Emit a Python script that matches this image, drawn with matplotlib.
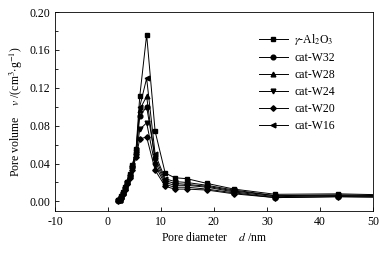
import matplotlib
matplotlib.use("Agg")
import matplotlib.pyplot as plt
from matplotlib.ticker import MultipleLocator

plt.rcParams['font.family'] = ['Liberation Serif', 'DejaVu Serif']
plt.rcParams['mathtext.fontset'] = 'stix'
plt.rcParams['axes.unicode_minus'] = False

# pore diameter (nm)
diameter = [1.9, 2.2, 2.5, 2.8, 3.2, 3.6, 4.1, 4.6, 5.3, 6.0, 7.3, 8.9,
            10.8, 12.6, 14.9, 18.7, 23.8, 31.6, 43.5, 60.0]

# pore volume (cm3/g)
al2o3 = [0.001, 0.003, 0.006, 0.010, 0.015, 0.021, 0.029, 0.038, 0.055, 0.111, 0.176, 0.074,
         0.030, 0.025, 0.024, 0.019, 0.013, 0.0075, 0.008, 0.006]
w32 = [0.001, 0.002, 0.005, 0.009, 0.014, 0.020, 0.027, 0.036, 0.050, 0.090, 0.100, 0.046,
       0.022, 0.019, 0.018, 0.016, 0.011, 0.006, 0.006, 0.005]
w28 = [0.001, 0.002, 0.005, 0.009, 0.014, 0.021, 0.028, 0.037, 0.052, 0.097, 0.111, 0.042,
       0.020, 0.017, 0.017, 0.015, 0.010, 0.005, 0.006, 0.005]
w24 = [0.000, 0.002, 0.004, 0.008, 0.013, 0.019, 0.026, 0.035, 0.050, 0.076, 0.083, 0.038,
       0.018, 0.015, 0.015, 0.013, 0.009, 0.004, 0.005, 0.004]
w20 = [0.000, 0.002, 0.004, 0.008, 0.012, 0.018, 0.025, 0.033, 0.047, 0.066, 0.068, 0.033,
       0.016, 0.013, 0.013, 0.012, 0.008, 0.004, 0.005, 0.004]
w16 = [0.001, 0.002, 0.005, 0.009, 0.014, 0.021, 0.029, 0.038, 0.054, 0.100, 0.130, 0.050,
       0.024, 0.021, 0.020, 0.017, 0.012, 0.006, 0.007, 0.005]

series = [
    (al2o3, 's', r'$\gamma$-Al$_2$O$_3$'),
    (w32, 'o', 'cat-W32'),
    (w28, '^', 'cat-W28'),
    (w24, 'v', 'cat-W24'),
    (w20, 'D', 'cat-W20'),
    (w16, '<', 'cat-W16'),
]

fig = plt.figure(figsize=(3.82, 2.61), dpi=100)
ax = fig.add_axes([0.144, 0.192, 0.832, 0.762])

for vals, mk, lab in series:
    ms = 2.8 if mk == 'D' else 3.4
    ax.plot(diameter, vals, marker=mk, color='black', markersize=ms,
            linewidth=0.7, label=lab)

ax.set_xlim(-10, 50)
ax.set_ylim(-0.01, 0.20)
ax.xaxis.set_major_locator(MultipleLocator(10))
ax.yaxis.set_major_locator(MultipleLocator(0.04))
ax.yaxis.set_minor_locator(MultipleLocator(0.02))
ax.yaxis.set_major_formatter(matplotlib.ticker.FormatStrFormatter('%.2f'))
ax.tick_params(direction='in', labelsize=8.5, length=3, width=0.6)
ax.tick_params(which='minor', direction='in', length=2, width=0.6)
for s in ax.spines.values():
    s.set_linewidth(0.6)

ax.set_xlabel(r'Pore diameter    $d$ /nm', fontsize=8.5, labelpad=2)
ax.set_ylabel(r'Pore volume    $v$ /(cm$^3$$\cdot$g$^{-1}$)', fontsize=8.5, labelpad=3)

ax.legend(loc='upper left', bbox_to_anchor=(0.615, 0.94), frameon=False, fontsize=8.5,
          handlelength=2.5, handletextpad=0.5, labelspacing=0.42, borderpad=0.2)

fig.savefig('out.png', dpi=100)
